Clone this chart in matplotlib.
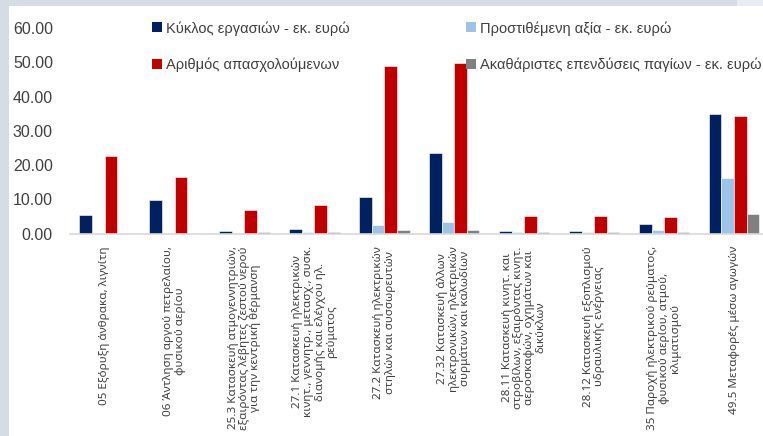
import matplotlib
matplotlib.use("Agg")
import matplotlib.pyplot as plt
from matplotlib.patches import Rectangle, Patch
import numpy as np

categories = [
    "05 Εξόρυξη άνθρακα, λιγνίτη",
    "06 Άντληση αργού πετρελαίου,\nφυσικού αερίου",
    "25.3 Κατασκευή ατμογεννητριών,\nεξαιρόντας λέβητες ζεστού νερού\nγια την κεντρική θέρμανση",
    "27.1 Κατασκευή ηλεκτρικών\nκινητ., γεννητρ., μετασχ., συσκ.\nδιανομής και ελέγχου ηλ.\nρεύματος",
    "27.2 Κατασκευή ηλεκτρικών\nστηλών και συσσωρευτών",
    "27.32 Κατασκευή άλλων\nηλεκτρονικών, ηλεκτρικών\nσυρμάτων και καλωδίων",
    "28.11 Κατασκευή κινητ. και\nστροβίλων, εξαιρόντας κινητ.\nαεροσκαφών, οχημάτων και\nδικύκλων",
    "28.12 Κατασκευή εξοπλισμού\nυδραυλικής ενέργειας",
    "35 Παροχή ηλεκτρικού ρεύματος,\nφυσικού αερίου, ατμού,\nκλιματισμού",
    "49.5 Μεταφορές μέσω αγωγών",
]

turnover = [5.5, 9.9, 0.7, 1.3, 10.7, 23.5, 0.8, 0.8, 2.7, 35.0]
value_added = [0.0, 0.0, 0.2, 0.3, 2.6, 3.5, 0.3, 0.3, 1.0, 16.3]
employees = [22.7, 16.5, 6.9, 8.2, 48.9, 49.8, 5.2, 5.2, 4.7, 34.4]
investment = [0.0, 0.0, 0.3, 0.4, 1.0, 1.1, 0.4, 0.3, 0.4, 5.7]

series_names = [
    "Κύκλος εργασιών - εκ. ευρώ",
    "Προστιθέμενη αξία - εκ. ευρώ",
    "Αριθμός απασχολούμενων",
    "Ακαθάριστες επενδύσεις παγίων - εκ. ευρώ",
]
series_values = [turnover, value_added, employees, investment]
series_colors = ["#002060", "#9DC3E6", "#C00000", "#808080"]

y_ticks = [0, 10, 20, 30, 40, 50, 60]

W, H = 763, 436
fig = plt.figure(figsize=(W / 100, H / 100), dpi=100)
fig.patch.set_facecolor("white")

# frame strips around the chart area
frame = "#D6DCE4"
fig.patches.append(Rectangle((0, 0), 9 / W, 1, transform=fig.transFigure,
                             facecolor=frame, edgecolor="none", zorder=0))
fig.patches.append(Rectangle((0, 1 - 6 / H), 737 / W, 6 / H, transform=fig.transFigure,
                             facecolor=frame, edgecolor="none", zorder=0))
fig.patches.append(Rectangle((737 / W, 1 - 6 / H), 26 / W, 6 / H, transform=fig.transFigure,
                             facecolor="#E9EDF2", edgecolor="none", zorder=0))

x0, x1 = 69.6, 769.0
y_base, y_top = 233.5, 28.0
ax = fig.add_axes([x0 / W, 1 - y_base / H, (x1 - x0) / W, (y_base - y_top) / H])
ax.set_facecolor("none")

n = len(categories)
x = np.arange(n)
bw = 0.18
offsets = (np.arange(4) - 1.5) * bw
for vals, col, off in zip(series_values, series_colors, offsets):
    ax.bar(x + off, vals, width=bw, color=col, edgecolor="white", linewidth=0.4, zorder=2)

ax.set_xlim(-0.5, n - 0.5)
ax.set_ylim(0, 60)
ax.set_yticks(y_ticks)
ax.set_yticklabels([f"{v:.2f}" for v in y_ticks], fontsize=11.5,
                   family=["Liberation Sans", "DejaVu Sans"], color="#404040")
ax.set_xticks(x)
ax.set_xticklabels(categories, rotation=90, ha="center", va="top",
                   multialignment="center", fontsize=8.4,
                   family=["Noto Sans", "DejaVu Sans"], color="#404040",
                   linespacing=1.05)
ax.tick_params(axis="both", length=0)
ax.tick_params(axis="y", pad=12)
ax.tick_params(axis="x", pad=9)
for side in ("left", "right", "top"):
    ax.spines[side].set_visible(False)
ax.spines["bottom"].set_color("#D9D9D9")
ax.spines["bottom"].set_linewidth(1.2)

# two legend columns, placed independently
legend_font = {"family": ["Liberation Sans", "DejaVu Sans"], "size": 10.5}
handles = [Patch(facecolor=c, edgecolor="none") for c in series_colors]
col_pos = [(152, [0, 2]), (466, [1, 3])]
for px, idx in col_pos:
    fig.legend([handles[i] for i in idx], [series_names[i] for i in idx],
               loc="upper left", bbox_to_anchor=(px / W, 1 - 21 / H),
               frameon=False, prop=legend_font, handlelength=0.7,
               handleheight=0.7, handletextpad=0.25, labelspacing=1.5,
               borderpad=0, borderaxespad=0, labelcolor="#404040")

fig.savefig("out.png", dpi=100, facecolor=fig.get_facecolor())
